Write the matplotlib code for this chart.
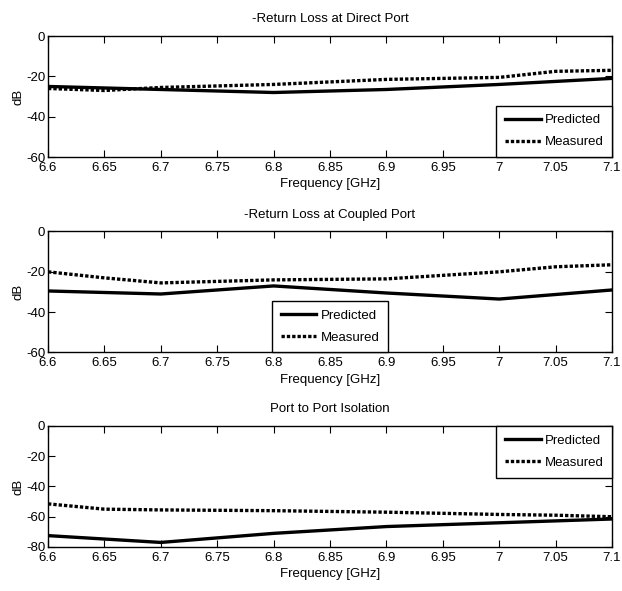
import numpy as np
import matplotlib
matplotlib.use("Agg")
import matplotlib.pyplot as plt
from matplotlib import font_manager

# pick a narrow Arial-like face if it is there
names = {f.name for f in font_manager.fontManager.ttflist}
fam = "Liberation Sans Narrow" if "Liberation Sans Narrow" in names else "Liberation Sans"
plt.rcParams['font.family'] = [fam, 'DejaVu Sans']
plt.rcParams['font.size'] = 9.5
plt.rcParams['axes.unicode_minus'] = False

# frequency points (GHz)
f_pred = [6.6, 6.7, 6.8, 6.9, 7.0, 7.1]
f_meas = [6.6, 6.65, 6.7, 6.8, 6.9, 7.0, 7.05, 7.1]

# return loss at direct port
direct_pred = [-25, -26.5, -28, -26.5, -24, -21]
direct_meas = [-26, -27, -25.5, -24, -21.5, -20.5, -17.5, -17]

# return loss at coupled port
coupled_pred = [-29.5, -31, -27, -30.5, -33.5, -29]
coupled_meas = [-20, -23, -25.5, -24, -23.5, -20, -17.5, -16.5]

# port to port isolation
iso_pred = [-72.5, -77, -71, -66.5, -64, -61.5]
iso_meas = [-51.5, -55, -55.5, -56, -57, -58.5, -59, -60]

titles = ["-Return Loss at Direct Port", "-Return Loss at Coupled Port", "Port to Port Isolation"]
xticks = [6.6, 6.65, 6.7, 6.75, 6.8, 6.85, 6.9, 6.95, 7.0, 7.05, 7.1]
xticklabels = ["6.6", "6.65", "6.7", "6.75", "6.8", "6.85", "6.9", "6.95", "7", "7.05", "7.1"]

panels = [
    (direct_pred, direct_meas, -60, "lower right"),
    (coupled_pred, coupled_meas, -60, "lower center"),
    (iso_pred, iso_meas, -80, "upper right"),
]

fig = plt.figure(figsize=(6.22, 5.91), dpi=100)
bottoms = [0.7343, 0.4036, 0.0745]

for i, (pred, meas, ymin, loc) in enumerate(panels):
    ax = fig.add_axes([0.0772, bottoms[i], 0.9068, 0.2047])
    ax.plot(f_pred, pred, color='black', lw=2.4, label='Predicted')
    ax.plot(f_meas, meas, color='black', lw=2.4, linestyle=(0, (1, 0.6)), label='Measured')
    ax.set_xlim(6.6, 7.1)
    ax.set_ylim(ymin, 0)
    ax.set_yticks(np.arange(ymin, 1, 20))
    ax.set_xticks(xticks)
    ax.set_xticklabels(xticklabels)
    ax.tick_params(direction='in', top=True, right=True, length=5, width=0.8)
    ax.tick_params(axis='x', pad=3.5)
    ax.tick_params(axis='y', pad=2)
    for s in ax.spines.values():
        s.set_linewidth(1.0)
    ax.set_title(titles[i], fontsize=9.5, pad=10)
    ax.set_xlabel("Frequency [GHz]", labelpad=3)
    ax.set_ylabel("dB", labelpad=1)
    leg = ax.legend(loc=loc, fancybox=False, edgecolor='black', framealpha=1,
                    borderaxespad=0, handlelength=2.7, handletextpad=0.3,
                    borderpad=0.65, labelspacing=0.75, fontsize=9.5)
    leg.get_frame().set_linewidth(1.0)

fig.savefig("out.png", dpi=100)
